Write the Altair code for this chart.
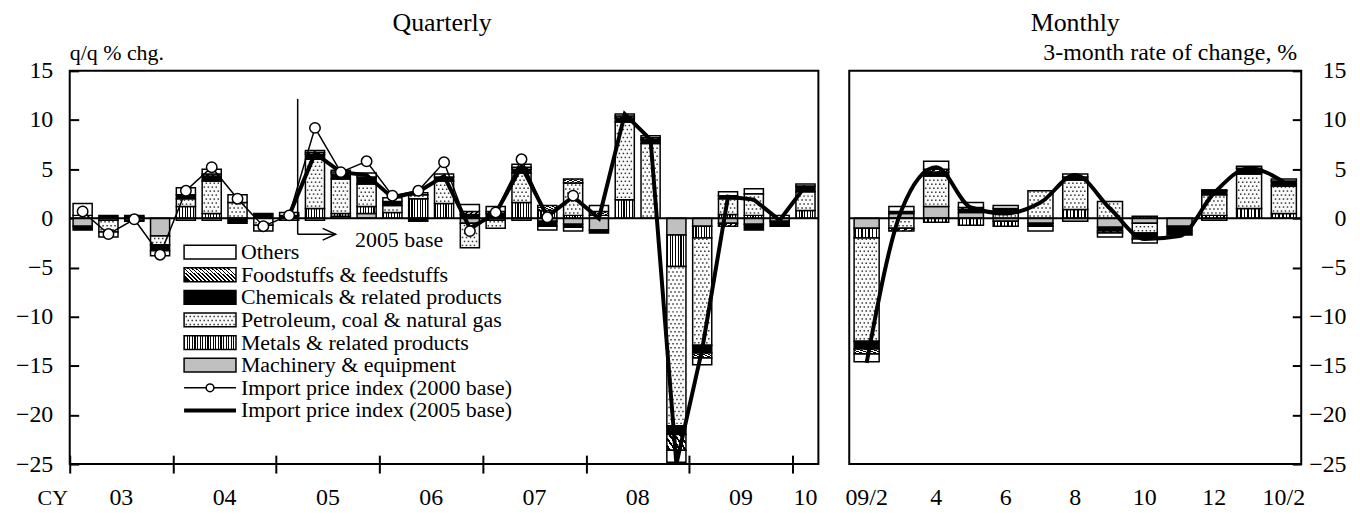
import altair as alt
import pandas as pd

FONT = "Liberation Serif"

# ---------------- data ----------------
categories = ["Machinery & equipment", "Metals & related products",
              "Petroleum, coal  & natural gas", "Chemicals & related products",
              "Foodstuffs & feedstuffs", "Others"]
legend_order = ["Others", "Foodstuffs & feedstuffs", "Chemicals & related products",
                "Petroleum, coal  & natural gas", "Metals & related products",
                "Machinery & equipment"]
line_names = ["Import price index (2000 base)", "Import price index (2005 base)"]

# quarterly, 2003Q1 .. 2010Q1 (index 0..28)
q_index = list(range(29))
q_machinery = [-0.8, -0.2, -0.2, -1.8, -0.2, -0.2, 0, 0, -0.2, -0.2, 0.2, 0.5, 0, 0, 0,
               -0.5, -0.2, -0.2, -0.3, -0.6, -1.2, 0, 0, -1.7, -0.8, -0.5, -0.6, -0.3, 0]
q_metals = [0, 0, 0, 0, 1.2, 0.5, 0, 0, 0, 1.0, 0.3, 0.7, 0.6, 2.0, 1.5,
            0, 0, 1.6, 0.8, 0.3, 0, 1.9, 0, -3.2, -1.2, 0.4, 0.3, 0, 0.8]
q_petroleum = [0.3, -1.2, -0.1, -0.9, 0.8, 3.3, 1.6, -0.7, 0, 5.0, 3.5, 2.3, 0.7, 0.4, 2.3,
               -2.5, -0.8, 3.0, 0, 3.3, 0.3, 7.9, 7.6, -16.2, -10.9, 1.6, 2.2, 0.3, 1.9]
q_chemicals = [-0.4, 0.3, 0.2, -0.6, 0.4, 0.5, -0.5, 0.5, 0.3, 0.5, 0.5, 0.7, 0.4, -0.3, 0.4,
               0.4, 0.5, 0.4, -0.5, -0.3, -0.3, 0.4, 0.4, -0.9, -0.8, 0.3, -0.6, -0.5, 0.6]
q_foodstuffs = [0, 0, 0, 0, 0, 0.2, 0, 0, 0, 0.2, 0.2, 0, 0, 0, 0,
                0.3, 0.2, 0.2, 0.5, 0.4, 0.4, 0.2, 0.2, -1.6, -0.5, -0.3, 0, 0, 0]
q_others = [1.2, -0.5, 0.1, -0.5, 0.7, 0.5, 0.8, -0.6, 0.3, 0.2, 0.2, 0.4, 0.4, 0.2, 0.3,
            0.7, 0.5, 0.3, -0.4, -0.4, 0.6, 0.2, 0.2, -1.2, -0.7, 0.4, 0.5, 0, 0.2]
q_ipi2000_index = list(range(0, 20))
q_ipi2000 = [0.7, -1.6, -0.1, -3.7, 2.8, 5.2, 2.0, -0.8, 0.3, 9.2, 4.7, 5.8, 2.3, 2.8,
             5.7, -1.3, 0.6, 6.0, 0.1, 2.3]
q_ipi2005_index = list(range(8, 29))
q_ipi2005 = [0.3, 6.6, 4.7, 4.4, 2.1, 2.7, 4.3, -1.0, 0.5, 5.3, 0.2, 2.2, 0.0, 10.6,
             8.0, -25.0, -13.3, 2.2, 1.9, -0.2, 3.3]
year_labels = ["03", "04", "05", "06", "07", "08", "09", "10"]
year_label_pos = [1.5, 5.5, 9.5, 13.5, 17.5, 21.5, 25.5, 28]
year_tick_pos = [-0.5, 3.5, 7.5, 11.5, 15.5, 19.5, 23.5, 27.5]

# monthly, 2009/2 .. 2010/2 (index 0..12)
m_index = list(range(13))
m_machinery = [-1.0, 0.5, 1.2, 0.6, -0.3, -0.5, -0.3, -0.9, -0.5, -0.8, -0.2, 0, 0]
m_metals = [-1.0, 0, -0.4, -0.7, -0.5, 0, 0.9, 0, 0.2, 0, 0.3, 1.0, 0.5]
m_petroleum = [-10.5, -1.0, 3.1, 0, 0.7, 2.8, 3.0, 1.7, -1.0, 0, 2.1, 3.5, 2.8]
m_chemicals = [-0.8, 0.2, 0.4, 0.3, 0.3, -0.3, 0.3, -0.4, -0.6, -0.9, 0.4, 0.6, 0.5]
m_foodstuffs = [-0.5, -0.3, 0.3, 0.2, 0, 0, 0, -0.2, 0, 0, 0, 0, 0]
m_others = [-0.8, 0.5, 0.8, 0.5, 0.3, -0.5, 0.3, -0.4, -0.4, 0, 0.1, 0.2, 0.2]
m_ipi2005 = [-14.7, 0.8, 5.2, 1.1, 0.5, 1.6, 4.4, 1.0, -2.1, -1.8, 2.6, 5.1, 3.7]
month_labels = ["09/2", "4", "6", "8", "10", "12", "10/2"]
month_label_pos = [0, 2, 4, 6, 8, 10, 12]

y_ticks = [-25, -20, -15, -10, -5, 0, 5, 10, 15]


# ---------------- helpers ----------------
def long_df(idx, comps):
    rows = []
    for k, cat in enumerate(categories):
        for i, v in zip(idx, comps[k]):
            if v != 0:
                rows.append({"t": i, "cat": cat, "ord": k, "v": v})
    return pd.DataFrame(rows)


def stripes(n, frac, x1, y1, x2, y2, dark="black", light="white"):
    stops = []
    for k in range(n):
        a, b, c = k / n, (k + frac) / n, (k + 1) / n
        stops += [alt.GradientStop(offset=round(a, 4), color=dark),
                  alt.GradientStop(offset=round(b, 4), color=dark),
                  alt.GradientStop(offset=round(b, 4), color=light),
                  alt.GradientStop(offset=round(c, 4), color=light)]
    return alt.LinearGradient(gradient="linear", stops=stops, x1=x1, y1=y1, x2=x2, y2=y2)


PETRO = "#fafafa"
bar_fills = ["#c0c0c0", stripes(7, 0.42, 0, 0, 1, 0), PETRO, "black",
             stripes(5, 0.45, 0, 0.8, 1, 0.2), "white"]
legend_fills = {"Machinery & equipment": "#c0c0c0",
                "Metals & related products": stripes(20, 0.42, 0, 0, 1, 0),
                "Petroleum, coal  & natural gas": PETRO,
                "Chemicals & related products": "black",
                "Foodstuffs & feedstuffs": stripes(14, 0.45, 0, 0.64, 1, 0.36),
                "Others": "white"}

ys = alt.Scale(domain=[-25, 15], nice=False, zero=False)
xs_q = alt.Scale(domain=[-0.5, 28.5], nice=False, zero=False)
xs_m = alt.Scale(domain=[-0.5, 12.5], nice=False, zero=False)

ax_y_left = alt.Axis(orient="left", values=y_ticks, offset=-9, tickSize=9, tickWidth=2,
                     tickColor="black", domain=False, grid=False, labelPadding=17,
                     labelFont=FONT, labelFontSize=24, labelColor="black", title=None)
ax_y_right = alt.Axis(orient="right", values=y_ticks, offset=-9, tickSize=9, tickWidth=2,
                      tickColor="black", domain=False, grid=False, labelPadding=45,
                      labelAlign="right", labelFont=FONT, labelFontSize=24,
                      labelColor="black", title=None)
ax_x_q = alt.Axis(orient="bottom", values=year_tick_pos, offset=-9, tickSize=18, tickWidth=2,
                  tickColor="black", domain=False, grid=False, labels=False, title=None)

W_Q, W_M, H = 752, 454, 395
PX_Y = 40 / H                      # data units of y per pixel
PX_XQ = 29 / W_Q                   # quarterly x units per pixel
PX_XM = 13 / W_M                   # monthly x units per pixel


def dotted(chart, xs, axx, axy, px_x, gap=4.0):
    """Dot texture generated from each segment's own extent (xa, xb, y0, y1)."""
    dy = gap * PX_Y
    dx = gap * px_x
    return (
        chart.transform_calculate(lo="min(datum.y0, datum.y1)", hi="max(datum.y0, datum.y1)")
        .transform_calculate(rows=f"sequence(datum.lo + {dy * 0.6}, datum.hi - {dy * 0.3}, {dy})")
        .transform_flatten(["rows"])
        .transform_calculate(par=f"floor((datum.rows - datum.lo) / {dy} + 0.01) % 2")
        .transform_calculate(cols=f"sequence(datum.xa + {dx} * (0.55 + 0.5 * datum.par), datum.xb - {dx} * 0.3, {dx})")
        .transform_flatten(["cols"])
        .mark_square(color="#333333", size=2.2, opacity=1)
        .encode(x=alt.X("cols:Q", scale=xs, axis=axx), y=alt.Y("rows:Q", scale=ys, axis=axy))
    )


def panel_bars(df, half, xs, axx, axy, px_x):
    base = alt.Chart(df).transform_stack(
        stack="v", groupby=["t"], as_=["y0", "y1"],
        sort=[alt.SortField("ord", order="ascending")], offset="zero"
    ).transform_calculate(xa=f"datum.t - {half}", xb=f"datum.t + {half}")
    layers = []
    for k, cat in enumerate(categories):
        seg = base.transform_filter(alt.datum.cat == cat)
        layers.append(
            seg.mark_rect(fill=bar_fills[k], stroke="black", strokeWidth=1.5)
            .encode(x=alt.X("xa:Q", scale=xs, axis=axx), x2="xb:Q",
                    y=alt.Y("y0:Q", scale=ys, axis=axy), y2="y1:Q")
        )
        if k == 2:
            layers.append(dotted(seg, xs, axx, axy, px_x))
    return layers


def zero_rule(axy):
    return alt.Chart(pd.DataFrame({"y": [0]})).mark_rule(color="black", strokeWidth=2).encode(
        y=alt.Y("y:Q", scale=ys, axis=axy))


def text_at(txt, x, y, size, align="center", baseline="middle"):
    return alt.Chart(pd.DataFrame({"s": [txt]})).mark_text(
        font=FONT, fontSize=size, align=align, baseline=baseline, color="black"
    ).encode(x=alt.value(x), y=alt.value(y), text="s:N")


# ---------------- quarterly panel ----------------
qdf = long_df(q_index, [q_machinery, q_metals, q_petroleum, q_chemicals, q_foodstuffs, q_others])
q_layers = panel_bars(qdf, 0.37, xs_q, ax_x_q, ax_y_left, PX_XQ)
q_layers.append(zero_rule(ax_y_left))

# legend (positions in data units of the quarterly panel)
LEG_X0, LEG_X1, LEG_XT = 3.93, 5.94, 6.13
LEG_Y0, LEG_DY, LEG_H = -3.44, -2.3, 0.7
for r, name in enumerate(legend_order):
    yc = LEG_Y0 + LEG_DY * r
    sw = pd.DataFrame({"xa": [LEG_X0], "xb": [LEG_X1], "y0": [yc - LEG_H], "y1": [yc + LEG_H]})
    swc = alt.Chart(sw)
    q_layers.append(swc.mark_rect(fill=legend_fills[name], stroke="black", strokeWidth=1.5)
                    .encode(x=alt.X("xa:Q", scale=xs_q, axis=ax_x_q), x2="xb:Q",
                            y=alt.Y("y0:Q", scale=ys, axis=ax_y_left), y2="y1:Q"))
    if name.startswith("Petroleum"):
        q_layers.append(dotted(swc, xs_q, ax_x_q, ax_y_left, PX_XQ))
for r, name in enumerate(line_names):
    yc = LEG_Y0 + LEG_DY * (6 + r)
    ln = pd.DataFrame({"xa": [LEG_X0], "xb": [LEG_X1], "y": [yc]})
    q_layers.append(alt.Chart(ln).mark_rule(color="black", strokeWidth=1.5 if r == 0 else 4)
                    .encode(x=alt.X("xa:Q", scale=xs_q, axis=ax_x_q), x2="xb:Q",
                            y=alt.Y("y:Q", scale=ys, axis=ax_y_left)))
    if r == 0:
        pt = pd.DataFrame({"x": [(LEG_X0 + LEG_X1) / 2], "y": [yc]})
        q_layers.append(alt.Chart(pt).mark_point(shape="circle", filled=True, fill="white",
                                                  stroke="black", strokeWidth=1.5, size=60, opacity=1)
                        .encode(x=alt.X("x:Q", scale=xs_q, axis=ax_x_q),
                                y=alt.Y("y:Q", scale=ys, axis=ax_y_left)))
leg_txt = pd.DataFrame({"x": [LEG_XT] * 8,
                        "y": [LEG_Y0 + LEG_DY * r for r in range(8)],
                        "s": legend_order + line_names})
q_layers.append(alt.Chart(leg_txt).mark_text(font=FONT, fontSize=22, align="left",
                                             baseline="middle", color="black")
                .encode(x=alt.X("x:Q", scale=xs_q, axis=ax_x_q),
                        y=alt.Y("y:Q", scale=ys, axis=ax_y_left), text="s:N"))

# import price lines
l2000 = pd.DataFrame({"t": q_ipi2000_index, "v": q_ipi2000})
l2005 = pd.DataFrame({"t": q_ipi2005_index, "v": q_ipi2005})
q_layers.append(alt.Chart(l2000).mark_line(color="black", strokeWidth=1.5)
                .encode(x=alt.X("t:Q", scale=xs_q, axis=ax_x_q),
                        y=alt.Y("v:Q", scale=ys, axis=ax_y_left)))
q_layers.append(alt.Chart(l2005).mark_line(color="black", strokeWidth=4)
                .encode(x=alt.X("t:Q", scale=xs_q, axis=ax_x_q),
                        y=alt.Y("v:Q", scale=ys, axis=ax_y_left)))
q_layers.append(alt.Chart(l2000).mark_point(shape="circle", filled=True, fill="white",
                                            stroke="black", strokeWidth=1.5, size=110, opacity=1)
                .encode(x=alt.X("t:Q", scale=xs_q, axis=ax_x_q),
                        y=alt.Y("v:Q", scale=ys, axis=ax_y_left)))

# "2005 base" marker
MK_X, MK_Y0, MK_Y1, MK_XE, MK_XT = 8.33, 12.15, -1.62, 9.8, 10.55
q_layers.append(alt.Chart(pd.DataFrame({"x": [MK_X], "ya": [MK_Y0], "yb": [MK_Y1]}))
                .mark_rule(color="black", strokeWidth=1.5)
                .encode(x=alt.X("x:Q", scale=xs_q, axis=ax_x_q),
                        y=alt.Y("ya:Q", scale=ys, axis=ax_y_left), y2="yb:Q"))
q_layers.append(alt.Chart(pd.DataFrame({"xa": [MK_X], "xb": [MK_XE], "y": [MK_Y1]}))
                .mark_rule(color="black", strokeWidth=1.5)
                .encode(x=alt.X("xa:Q", scale=xs_q, axis=ax_x_q), x2="xb:Q",
                        y=alt.Y("y:Q", scale=ys, axis=ax_y_left)))
q_layers.append(alt.Chart(pd.DataFrame({"x": [MK_XE], "y": [MK_Y1]}))
                .mark_point(shape="M -2 -0.9 L 0 0 L -2 0.9", filled=False, stroke="black",
                            strokeWidth=1.5, size=169, opacity=1)
                .encode(x=alt.X("x:Q", scale=xs_q, axis=ax_x_q),
                        y=alt.Y("y:Q", scale=ys, axis=ax_y_left)))
q_layers.append(alt.Chart(pd.DataFrame({"x": [MK_XT], "y": [-2.2], "s": ["2005 base"]}))
                .mark_text(font=FONT, fontSize=22, align="left", baseline="middle", color="black")
                .encode(x=alt.X("x:Q", scale=xs_q, axis=ax_x_q),
                        y=alt.Y("y:Q", scale=ys, axis=ax_y_left), text="s:N"))

# headers and x labels
q_layers.append(text_at("Quarterly", 374, -48, 26))
q_layers.append(text_at("q/q % chg.", 0, -18, 22, align="left"))
q_layers.append(alt.Chart(pd.DataFrame({"x": year_label_pos, "s": year_labels}))
                .mark_text(font=FONT, fontSize=24, baseline="middle", color="black")
                .encode(x=alt.X("x:Q", scale=xs_q, axis=ax_x_q), y=alt.value(H + 34), text="s:N"))
q_layers.append(text_at("CY", -17, H + 34, 22))

left = alt.layer(*q_layers).properties(width=W_Q, height=H)

# ---------------- monthly panel ----------------
mdf = long_df(m_index, [m_machinery, m_metals, m_petroleum, m_chemicals, m_foodstuffs, m_others])
m_layers = panel_bars(mdf, 0.36, xs_m, None, ax_y_right, PX_XM)
m_layers.append(zero_rule(ax_y_right))
mline = pd.DataFrame({"t": m_index, "v": m_ipi2005})
m_layers.append(alt.Chart(mline).mark_line(color="black", strokeWidth=4, interpolate="monotone")
                .encode(x=alt.X("t:Q", scale=xs_m, axis=None),
                        y=alt.Y("v:Q", scale=ys, axis=ax_y_right)))
m_layers.append(text_at("Monthly", W_M / 2, -48, 26))
m_layers.append(text_at("3-month rate of change, %", W_M - 4, -18, 24, align="right"))
m_layers.append(alt.Chart(pd.DataFrame({"x": month_label_pos, "s": month_labels}))
                .mark_text(font=FONT, fontSize=24, baseline="middle", color="black")
                .encode(x=alt.X("x:Q", scale=xs_m, axis=None), y=alt.value(H + 34), text="s:N"))

right = alt.layer(*m_layers).properties(width=W_M, height=H)

chart = (
    alt.hconcat(left, right, spacing=24)
    .properties(padding={"left": 6, "top": 0, "right": 5, "bottom": 5})
    .configure_view(stroke="black", strokeWidth=2)
    .configure_axis(labelFont=FONT)
)

chart.save("out.html", embed_options={"renderer": "svg", "actions": False})
